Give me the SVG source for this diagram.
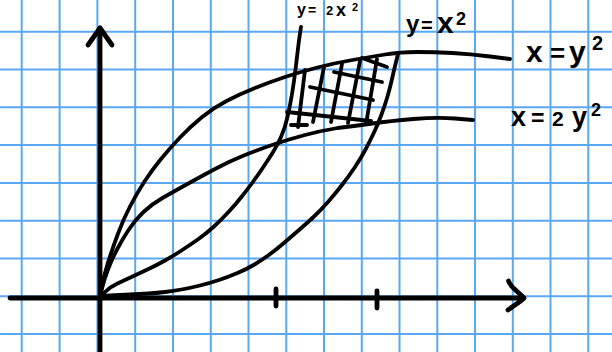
<svg xmlns="http://www.w3.org/2000/svg" width="612" height="352" viewBox="0 0 612 352">
<style>
.grid{stroke:#5aa8f2;stroke-width:2;fill:none}
.ink{stroke:#000;fill:none;stroke-linecap:round;stroke-linejoin:round}
.axis{stroke-width:4.8}
.curve{stroke-width:3.8}
.hatch{stroke-width:3.8}
.lbl{font-family:"Liberation Sans","DejaVu Sans",sans-serif;font-weight:bold;fill:#000}
</style>
<rect width="612" height="352" fill="#fff"/>
<g id="grid" class="grid">
<path d="M21.7,0V352M59.6,0V352M97.4,0V352M135.2,0V352M173,0V352M210.8,0V352M248.5,0V352M286.3,0V352M324,0V352M361.8,0V352M399.5,0V352M437.3,0V352M475,0V352M512.8,0V352M550.5,0V352M588.3,0V352"/>
<path d="M0,31.7H612M0,69.5H612M0,107.3H612M0,145.1H612M0,182.9H612M0,220.7H612M0,258.5H612M0,296.3H612M0,334.1H612"/>
</g>
<g id="axes" class="ink axis">
<path d="M100,352V28"/>
<path d="M88,45L100,28L112,45"/>
<path d="M10,298H523"/>
<path d="M508.5,281C510,287 520,293 524,298C520,302 513,306 508,310"/>
<path d="M276,289V306M377,291V308"/>
</g>
<g id="curves" class="ink curve">
<path id="curve-x-y2" d="M100,297 L102,286 Q104,275 108,262.5 Q112,250 117.5,235 Q123,220 130,206.5 Q137,193 144.5,181.5 Q152,170 161,159 Q170,148 180,137.5 Q190,127 201.5,117.5 Q213,108 226.5,101 Q240,94 255,88 Q270,82 285,77 Q300,72 317.5,67.5 Q335,63 352.5,60 Q370,57 385,54.5 Q400,52 417.5,52 Q435,52 452.5,53 Q470,54 490,56.5 L510,59"/>
<path id="curve-x-2y2" d="M100,297 L102,288.5 Q104,280 108,269.5 Q112,259 117,249.5 Q122,240 128.5,230 Q135,220 143.5,212 Q152,204 162.5,198 Q173,192 186.5,184.5 Q200,177 215,169 Q230,161 245,155 Q260,149 275,144 Q290,139 305,135 Q320,131 337.5,128 Q355,126 372.5,123.5 Q390,121 413.5,119 Q437,117 455,118.5 L473,120"/>
<path id="curve-y-2x2" d="M100,297 L105,292 Q110,287 117.5,283.5 Q125,280 132.5,276.5 Q140,273 148.5,269 Q157,265 165,260.5 Q173,256 181.5,250.5 Q190,245 198.5,239 Q207,233 214.5,226 Q222,219 228.5,212 Q235,205 241,197.5 Q247,190 252.5,182.5 Q258,175 263,167.5 Q268,160 272.5,153 Q277,146 281,137 Q285,128 287.5,117 Q290,106 292,94 Q294,82 295.5,69.5 Q297,57 298,48.5 Q299,40 300,33.5 L301,27"/>
<path id="curve-y-x2" d="M100,296 L110,295.5 Q120,295 130,294.5 Q140,294 148.5,293.5 Q157,293 165,292 Q173,291 181.5,289.5 Q190,288 200,285.5 Q210,283 219,280 Q228,277 237.5,273 Q247,269 254.5,264.5 Q262,260 269.5,254.5 Q277,249 284.5,242.5 Q292,236 299,230 Q306,224 313,217.5 Q320,211 327.5,202.5 Q335,194 342,185 Q349,176 355,167 Q361,158 365.5,149.5 Q370,141 374,132.5 Q378,124 381.5,114.5 Q385,105 387.5,96.5 Q390,88 392,79 Q394,70 396,62 L398,54"/>
</g>
<g id="hatch" class="ink hatch">
<path d="M305,70L298,127M324,67L313,122M342,64L331,122M360,61L348,123M377,59L366,124"/>
<path d="M362,58L387,67M334,72L382,82M310,87L373,100M287,112L371,121M291,125L307,125"/>
</g>
<g id="labels" class="lbl">
<text id="label-y-2x2" font-size="16"><tspan x="297" y="15">y</tspan><tspan x="308" y="15" font-size="14">=</tspan><tspan x="326" y="15" font-size="13">2</tspan><tspan x="336" y="16" font-size="18">x</tspan><tspan x="352" y="11" font-size="11">2</tspan></text>
<text id="label-y-x2" font-size="24"><tspan x="406" y="32">y</tspan><tspan x="421" y="32" font-size="20">=</tspan><tspan x="437" y="33" font-size="30">x</tspan><tspan x="456" y="25" font-size="18">2</tspan></text>
<text id="label-x-y2" font-size="30"><tspan x="526" y="62">x</tspan><tspan x="550" y="62" font-size="26">=</tspan><tspan x="569" y="62">y</tspan><tspan x="592" y="50" font-size="20">2</tspan></text>
<text id="label-x-2y2" font-size="27"><tspan x="511" y="126">x</tspan><tspan x="531" y="126" font-size="23">=</tspan><tspan x="552" y="126" font-size="21">2</tspan><tspan x="572" y="126">y</tspan><tspan x="591" y="116" font-size="18">2</tspan></text>
</g>
</svg>
